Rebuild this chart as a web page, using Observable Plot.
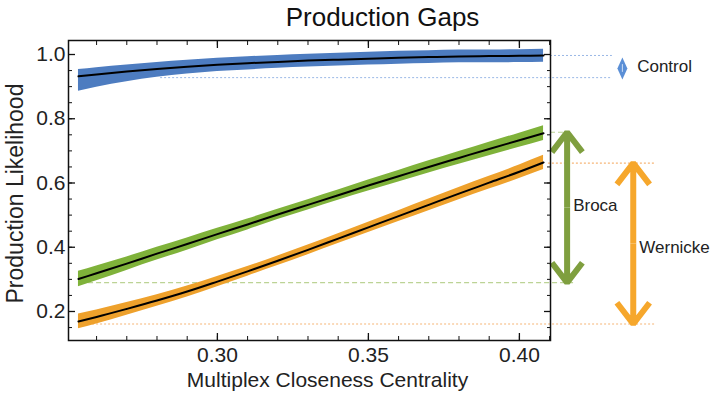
<!DOCTYPE html>
<html>
<head>
<meta charset="utf-8">
<script src="https://cdn.jsdelivr.net/npm/d3@7"></script>
<script src="https://cdn.jsdelivr.net/npm/@observablehq/plot@0.6"></script>
<style>
  html, body { margin: 0; padding: 0; background: #fff; }
  #chart { width: 712px; height: 400px; }
</style>
</head>
<body>
<div id="chart"></div>
<script>
// ---- data ----
const centrality = [0.254, 0.26, 0.27, 0.28, 0.29, 0.30, 0.31, 0.32, 0.33, 0.34, 0.35, 0.36, 0.37, 0.38, 0.39, 0.40, 0.408];
const control  = [0.932, 0.938, 0.947, 0.955, 0.962, 0.968, 0.973, 0.977, 0.981, 0.984, 0.987, 0.990, 0.992, 0.994, 0.995, 0.996, 0.997];
const broca    = [0.301, 0.319, 0.349, 0.380, 0.410, 0.441, 0.471, 0.502, 0.532, 0.562, 0.592, 0.621, 0.650, 0.678, 0.706, 0.733, 0.755];
const wernicke = [0.169, 0.183, 0.208, 0.234, 0.262, 0.293, 0.325, 0.358, 0.392, 0.427, 0.462, 0.497, 0.532, 0.567, 0.601, 0.635, 0.664];
// band extents (offset above / below the fitted curve)
const controlUp   = [0.021, 0.021, 0.020, 0.020, 0.020, 0.020, 0.020, 0.020, 0.020, 0.020, 0.020, 0.020, 0.020, 0.020, 0.019, 0.019, 0.019];
const controlDown = [0.046, 0.040, 0.032, 0.026, 0.023, 0.021, 0.021, 0.020, 0.020, 0.020, 0.020, 0.020, 0.020, 0.020, 0.021, 0.021, 0.021];
const brocaHalf    = [0.024, 0.023, 0.021, 0.020, 0.019, 0.018, 0.017, 0.016, 0.016, 0.016, 0.017, 0.018, 0.019, 0.020, 0.021, 0.022, 0.023];
const wernickeHalf = [0.023, 0.022, 0.020, 0.018, 0.017, 0.016, 0.015, 0.015, 0.015, 0.015, 0.016, 0.017, 0.018, 0.019, 0.020, 0.021, 0.022];

const groups = ["Control", "Broca", "Wernicke"];
const gapTop    = [0.997, 0.758, 0.662];
const gapBottom = [0.928, 0.290, 0.161];

const yMajor = [0.2, 0.4, 0.6, 0.8, 1.0];
const yMinor = d3.range(0.15, 1.04, 0.05);
const xMajor = [0.30, 0.35, 0.40];
const xMinor = d3.range(0.26, 0.4105, 0.01);

// ---- styling ----
const colors = {Control: "#4d7cc0", Broca: "#7fb23a", Wernicke: "#eea12c"};
const arrowColors = {Control: "#5b8fd6", Broca: "#7f9f3f", Wernicke: "#f6a72c"};
const dashColors = {Control: "#9ab8e6", Broca: "#bcd395", Wernicke: "#f6b577"};
const font = "'Liberation Sans', Arial, Helvetica, sans-serif";
// tall diamond glyph for the compact "Control" gap marker
const tallDiamond = {
  draw(context) {
    context.moveTo(0, -11);
    context.lineTo(5, 0);
    context.lineTo(0, 11);
    context.lineTo(-5, 0);
    context.closePath();
  }
};

// ---- tables ----
const rows = [];
centrality.forEach((x, i) => {
  rows.push({group: "Control", x, y: control[i], lo: control[i] - controlDown[i], hi: control[i] + controlUp[i]});
  rows.push({group: "Broca", x, y: broca[i], lo: broca[i] - brocaHalf[i], hi: broca[i] + brocaHalf[i]});
  rows.push({group: "Wernicke", x, y: wernicke[i], lo: wernicke[i] - wernickeHalf[i], hi: wernicke[i] + wernickeHalf[i]});
});
const gaps = groups.map((g, i) => ({group: g, top: gapTop[i], bottom: gapBottom[i], mid: (gapTop[i] + gapBottom[i]) / 2}));
const G = Object.fromEntries(gaps.map(d => [d.group, d]));

// annotation column positions (in x data units, right of the frame)
const dashes = [
  {group: "Control", y: G.Control.top, x1: 0.4103, x2: 0.4308},
  {group: "Control", y: G.Control.bottom, x1: 0.2812, x2: 0.4308},
  {group: "Broca", y: G.Broca.top, x1: 0.4103, x2: 0.4160},
  {group: "Broca", y: G.Broca.bottom, x1: 0.2547, x2: 0.4180},
  {group: "Wernicke", y: G.Wernicke.top, x1: 0.4096, x2: 0.4451},
  {group: "Wernicke", y: G.Wernicke.bottom, x1: 0.2547, x2: 0.4451}
];
const arrowX = {Control: 0.4341, Broca: 0.4158, Wernicke: 0.4377};
const labels = [
  {group: "Control", x: 0.4390, y: G.Control.mid},
  {group: "Broca", x: 0.4178, y: 0.53},
  {group: "Wernicke", x: 0.4397, y: 0.40}
];

const bigArrows = gaps.filter(d => d.group !== "Control").flatMap(d => [
  {group: d.group, x: arrowX[d.group], y1: d.mid, y2: d.top},
  {group: d.group, x: arrowX[d.group], y1: d.mid, y2: d.bottom}
]);
const controlMarker = gaps.filter(d => d.group === "Control").map(d => ({x: arrowX[d.group], y: d.mid - 0.006}));

const chart = Plot.plot({
  width: 712,
  height: 400,
  marginLeft: 68,
  marginRight: 162,
  marginTop: 40,
  marginBottom: 60,
  style: {fontFamily: font, fontSize: "20px", color: "#222", background: "#fff", overflow: "visible"},
  x: {domain: [0.2507, 0.4103]},
  y: {domain: [0.1097, 1.0436]},
  marks: [
    // dashed guide lines
    Plot.ruleY(dashes.filter(d => d.group === "Control"), {y: "y", x1: "x1", x2: "x2", stroke: dashColors.Control, strokeWidth: 1, strokeDasharray: "2,2"}),
    Plot.ruleY(dashes.filter(d => d.group === "Broca"), {y: "y", x1: "x1", x2: "x2", stroke: dashColors.Broca, strokeWidth: 1.2, strokeDasharray: "5,3"}),
    Plot.ruleY(dashes.filter(d => d.group === "Wernicke"), {y: "y", x1: "x1", x2: "x2", stroke: dashColors.Wernicke, strokeWidth: 1.2, strokeDasharray: "2,2"}),
    // bands
    ...groups.map(g => Plot.areaY(rows.filter(d => d.group === g), {x: "x", y1: "lo", y2: "hi", fill: colors[g], curve: "monotone-x"})),
    // fitted curves
    ...groups.map(g => Plot.line(rows.filter(d => d.group === g), {x: "x", y: "y", stroke: "#000", strokeWidth: 2, curve: "monotone-x"})),
    // gap arrows
    Plot.arrow(bigArrows, {x1: "x", x2: "x", y1: "y1", y2: "y2", stroke: d => arrowColors[d.group], strokeWidth: 6, headLength: 16, headAngle: 75, strokeLinecap: "butt", strokeLinejoin: "miter"}),
    Plot.dot(controlMarker, {x: "x", y: "y", symbol: tallDiamond, fill: arrowColors.Control, stroke: null}),
    Plot.ruleX(controlMarker, {x: "x", y1: d => d.y - 0.012, y2: d => d.y + 0.012, stroke: "#cfe0f7", strokeWidth: 1}),
    Plot.text(labels, {x: "x", y: "y", text: "group", textAnchor: "start", fill: "#222", fontSize: 17}),
    // frame and ticks (inward, Mathematica style)
    Plot.frame({stroke: "#111", strokeWidth: 1.5}),
    Plot.axisY(yMajor, {anchor: "left", tickSize: -7, tickPadding: 10, tickFormat: d3.format(".1f"), label: null, fontSize: 21, stroke: "#111", strokeWidth: 1.3}),
    Plot.axisY(yMinor, {anchor: "left", tickSize: -4, tickFormat: () => "", label: null, stroke: "#111"}),
    Plot.axisY(yMajor, {anchor: "right", tickSize: -7, tickFormat: () => "", label: null, stroke: "#111", strokeWidth: 1.3}),
    Plot.axisY(yMinor, {anchor: "right", tickSize: -4, tickFormat: () => "", label: null, stroke: "#111"}),
    Plot.axisX(xMajor, {anchor: "bottom", tickSize: -7, tickPadding: 14, tickFormat: d3.format(".2f"), label: null, fontSize: 21, stroke: "#111", strokeWidth: 1.3}),
    Plot.axisX(xMinor, {anchor: "bottom", tickSize: -4, tickFormat: () => "", label: null, stroke: "#111"}),
    Plot.axisX(xMajor, {anchor: "top", tickSize: -7, tickFormat: () => "", label: null, stroke: "#111", strokeWidth: 1.3}),
    Plot.axisX(xMinor, {anchor: "top", tickSize: -4, tickFormat: () => "", label: null, stroke: "#111"}),
    // titles
    Plot.text(["Production Gaps"], {frameAnchor: "top", dx: 73, dy: -23, fontSize: 26, fill: "#111", lineAnchor: "middle"}),
    Plot.text(["Multiplex Closeness Centrality"], {frameAnchor: "bottom", dx: 18, dy: 46, fontSize: 21, fill: "#222"}),
    Plot.text(["Production Likelihood"], {frameAnchor: "left", textAnchor: "middle", dx: -53, dy: 3, rotate: -90, fontSize: 23, fill: "#222"})
  ]
});
document.getElementById("chart").appendChild(chart);
</script>
</body>
</html>
